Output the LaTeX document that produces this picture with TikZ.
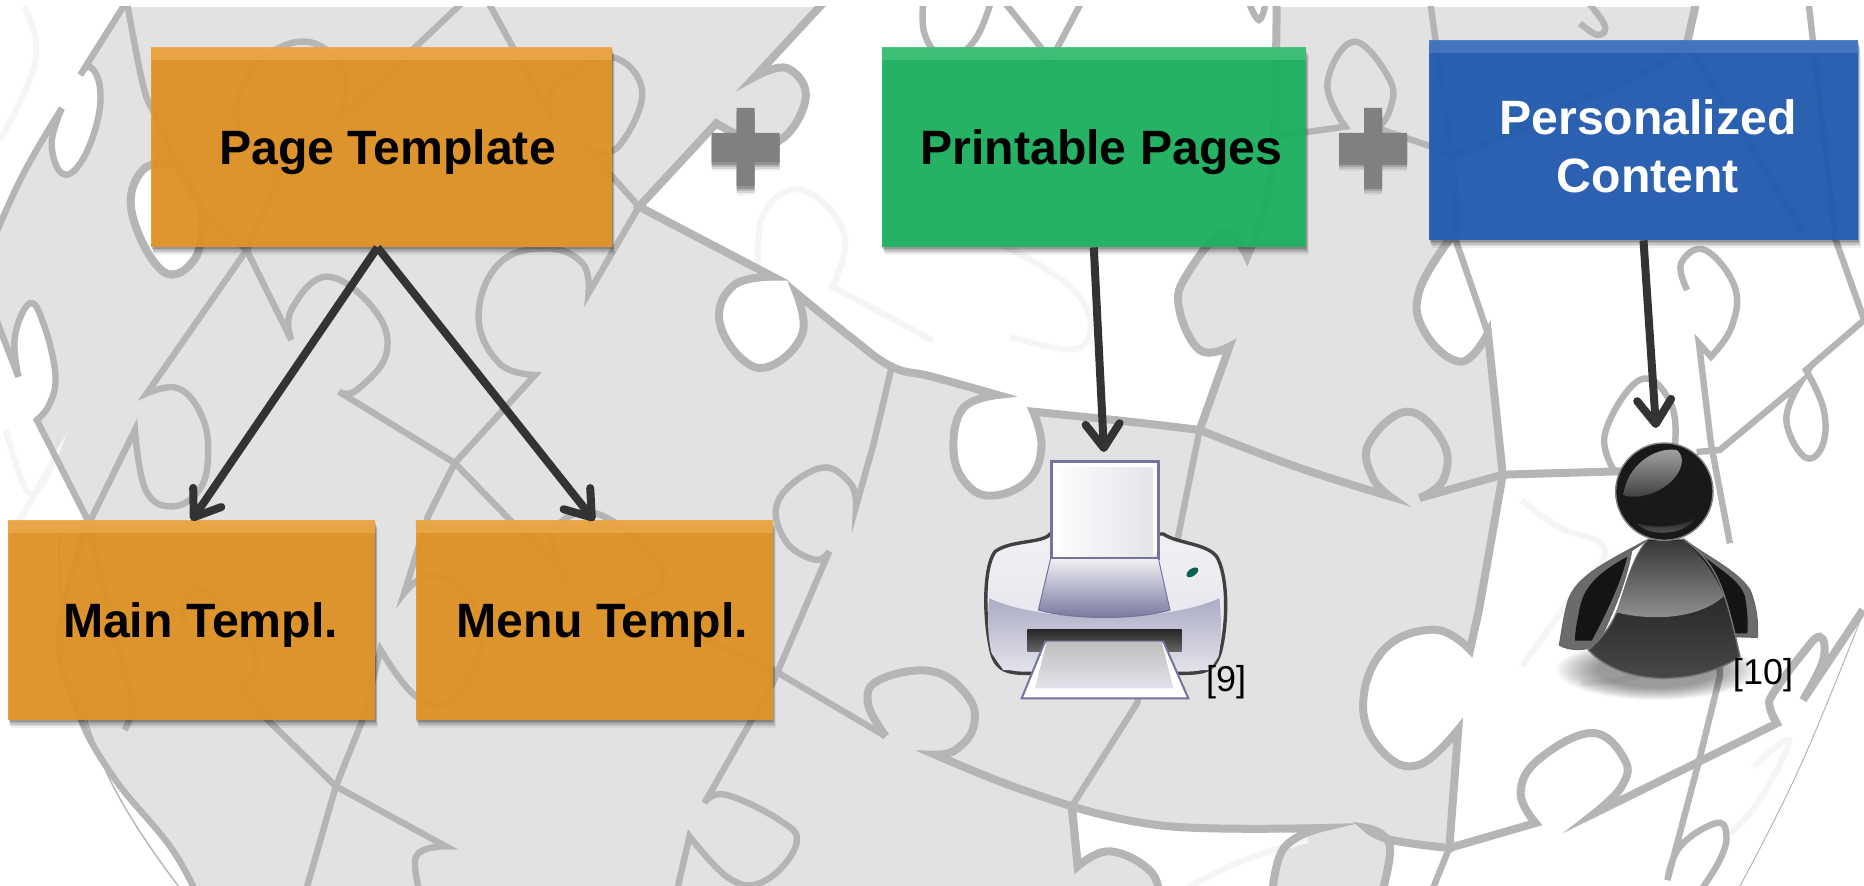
\documentclass[tikz,border=0pt]{standalone}
\usepackage{fontspec}
\setmainfont{Liberation Sans}
\usepackage{xcolor}
\usetikzlibrary{positioning}
\usetikzlibrary{arrows.meta,shadows}

\definecolor{globefill}{HTML}{E2E2E2}
\definecolor{globeline}{HTML}{B5B5B5}
\definecolor{globefaint}{HTML}{F5F5F5}
\definecolor{tplorange}{HTML}{E69625}
\definecolor{pagegreen}{HTML}{1CB561}
\definecolor{userblue}{HTML}{235DB4}
\definecolor{flowgray}{HTML}{333333}
\definecolor{plusgray}{HTML}{808080}
\definecolor{printlight}{HTML}{F0F0F4}
\definecolor{printmid}{HTML}{ABABC4}
\definecolor{printdark}{HTML}{74749C}
\definecolor{printpale}{HTML}{E2E2EA}

% the white puzzle pieces of the globe
\newcommand{\pieceTop}{(1405,-30) -- (1270,230) -- plot coordinates {(1270,230)(1325,205)(1355,300)(1300,430)(1205,370)} -- (1075,620) -- (1300,830)
  -- plot coordinates {(1300,830)(1235,855)(1210,960)(1250,1080)(1300,1095)(1350,1000)(1340,880)}
  -- plot coordinates {(1340,880)(1430,1010)(1500,1100)(1568,1130)(1678,1185)}
  -- plot coordinates {(1678,1185)(1620,1225)(1604,1350)(1625,1450)(1670,1487)(1730,1440)(1752,1340)(1738,1235)}
  -- plot coordinates {(1738,1235)(1900,1265)(2018,1290)} -- (2068,1040)
  -- plot coordinates {(2068,1040)(2018,1050)(1983,920)(1998,820)(2058,700)(2098,770)}
  -- plot coordinates {(2098,770)(2130,600)(2143,400)(2148,-30)} -- cycle}
\newcommand{\pieceLeft}{(-30,800) -- plot coordinates {(-30,800)(34,540)(104,325)}
  -- plot coordinates {(104,325)(87,430)(104,520)(135,490)(163,370)(168,260)(151,200)(135,225)} -- (225,-30) -- (-30,-30) -- cycle}
\newcommand{\pieceLobe}{(297,490) -- plot coordinates {(297,490)(240,510)(222,640)(275,815)(330,770)(340,630)} -- cycle}
\newcommand{\pieceCorner}{(-30,850) -- (31,1130) -- plot coordinates {(31,1130)(25,1010)(50,910)(73,970)(93,1120)(84,1210)(62,1260)}
  -- (149,1565) -- plot coordinates {(149,1565)(100,1900)(130,2130)(190,2329)(290,2549)(340,2720)} -- (-30,2720) -- cycle}
\newcommand{\pieceBottom}{(1803,2419) -- plot coordinates {(1803,2419)(1968,2479)(2223,2484)} -- plot coordinates {(2223,2484)(2158,2549)(2138,2720)}
  -- (1950,2720) -- plot coordinates {(1950,2720)(1938,2619)(1868,2554)(1813,2599)} -- cycle}
\newcommand{\pieceRight}{(2858,-30) -- (2838,130) -- (2798,190) -- (2538,400) -- (2443,470) -- (2450,690)
  -- plot coordinates {(2450,690)(2388,870)(2398,1000)(2458,1085)(2503,1000)} -- (2528,1424) -- (2488,1829) -- (2473,1949)
  -- plot coordinates {(2473,1949)(2413,1889)(2328,1949)(2293,2119)(2328,2259)(2388,2294)(2453,2189)} -- (2438,2544)
  -- plot coordinates {(2438,2544)(2338,2519)(2298,2484)} -- plot coordinates {(2298,2484)(2338,2539)(2318,2720)} -- (3200,2720) -- (3200,-30) -- cycle}

\begin{document}
\begin{tikzpicture}[
    x=.5pt, y=-.5pt,
    every plot/.style = {smooth, tension=.7},
    node distance = 0mm and 20pt,% for distance between nodes
    bgline/.style = {draw=globeline, line width=4pt},
    bgthin/.style = {draw=globeline, line width=3.2pt},
    bgfaint/.style = {draw=globefaint, line width=3pt},
    box/.style = {rectangle, fill=#1, fill opacity=.92, text opacity=1, inner sep=0pt, align=center,
        font=\fontsize{24.1}{29}\selectfont\bfseries,
        drop shadow={shadow xshift=.3pt, shadow yshift=-.8pt, opacity=.12, fill=black},
        drop shadow={shadow xshift=.6pt, shadow yshift=-1.6pt, opacity=.12, fill=black},
        drop shadow={shadow xshift=.9pt, shadow yshift=-2.4pt, opacity=.1, fill=black},
        drop shadow={shadow xshift=1.2pt, shadow yshift=-3.2pt, opacity=.08, fill=black},
        drop shadow={shadow xshift=1.5pt, shadow yshift=-4.2pt, opacity=.06, fill=black},
        path picture={\shade[top color=#1!84!white, bottom color=#1]
            (path picture bounding box.north west) rectangle ([yshift=-6pt]path picture bounding box.north east);}},
    flow/.style = {draw=flowgray, line width=4pt, -{Straight Barb[length=12pt, width=17pt, round]}},
    cite/.style = {inner sep=0pt, font=\fontsize{18}{18}\selectfont}
    ]
    \useasboundingbox (0,0) rectangle (1864,886);
    \fill[white] (0,0) rectangle (1864,886);

    % globe
    \begin{scope}
    \clip (0,7) rectangle (1864,886);
    \fill[globefill] (0,7) rectangle (1864,886);
    \begin{scope}[x=.29723pt, y=-.16667pt]
    \fill[white] \pieceTop;
    \fill[white] \pieceLeft;
    \fill[white] \pieceLobe;
    \fill[white] \pieceCorner;
    \fill[white] \pieceBottom;
    \fill[white] \pieceRight;
    % back side of the globe
    \draw[bgfaint] plot coordinates {(1275,820)(1285,640)(1350,570)(1420,700)(1400,860)} -- (1568,1020);
    \draw[bgfaint] plot coordinates {(40,20)(60,180)(0,420)};
    \draw[bgfaint] plot coordinates {(1580,640)(1800,860)(1820,1040)(1700,1010)};
    \draw[bgfaint] plot coordinates {(2560,1500)(2620,1580)(2700,1650)(2640,1800)(2560,2000)};
    \draw[bgfaint] plot coordinates {(2760,1650)(2850,1800)(2790,2000)(2660,2050)};
    \draw[bgfaint] plot coordinates {(2950,2300)(3010,2220)(2960,2400)(2910,2500)};
    \draw[bgfaint] plot coordinates {(1960,2700)(2080,2590)(2200,2520)};
    \draw[bgfaint] plot coordinates {(10,1290)(50,1480)(90,1380)(20,1600)};
    \draw[globeline, line width=.5pt] plot coordinates {(3134,1840)(3028,2300)(2927,2658)};
    \draw[globeline, line width=.7pt] plot coordinates {(100,1570)(110,1900)(180,2320)(300,2658)};
    % outlines of the pieces
    \draw[bgline] \pieceTop;
    \draw[bgthin] \pieceLeft;
    \draw[bgline] \pieceLobe;
    \draw[bgthin] \pieceCorner;
    \draw[bgline] \pieceBottom;
    \draw[bgline] \pieceRight;
    \draw[bgthin] (210,-30) -- plot coordinates {(210,-30)(240,250)(262,350)(297,490)};
    \draw[bgthin] (340,630) -- (415,750) -- (247,1180) -- plot coordinates {(247,1180)(300,1165)(340,1250)(350,1370)(335,1470)(290,1519)(245,1470)(227,1290)} -- (150,1569) -- (165,1700) -- (225,2130) -- (210,2190);
    \draw[bgthin] (415,750) -- (490,1020) -- plot coordinates {(490,1020)(490,930)(550,830)(630,930)(650,1060)(600,1170)(570,1175)} -- (765,1389) -- (950,1729) -- plot coordinates {(950,1729)(930,1599)(1000,1539)(1100,1669)(1110,1759)(1050,1809)} -- (1300,2009) -- (1490,2209);
    \draw[bgline] plot coordinates {(1490,2209)(1460,2109)(1480,2039)(1568,2014)(1628,2089)(1638,2179)(1608,2249)(1573,2264)} -- plot coordinates {(1573,2264)(1690,2350)(1803,2419)} -- (1813,2599);
    \draw[bgthin] (415,750) -- (470,530) -- plot coordinates {(470,530)(400,370)(430,200)(515,125)(580,220)(570,360)} -- (800,-30);
    \draw[bgthin] (810,-30) -- (930,360) -- plot coordinates {(930,360)(930,270)(1020,170)(1080,270)(1040,440)(990,450)} -- (1075,620);
    \draw[bgthin] (1075,620) -- (990,880) -- plot coordinates {(990,880)(980,790)(920,745)(840,790)(805,950)(840,1090)(900,1125)} -- (765,1389) -- (720,1549) -- (680,1779) -- plot coordinates {(680,1779)(720,1729)(780,1769)(810,1929)(760,2099)(700,2089)(640,1949)} -- (610,2159) -- (565,2359) -- (510,2700);
    \draw[bgthin] plot coordinates {(310,1880)(310,1800)(340,1769)(400,1859)(430,1969)(420,2039)(400,2059)} -- (450,2159) -- (565,2359) -- (750,2539) -- plot coordinates {(750,2539)(700,2569)(710,2700)};
    \draw[bgthin] (1500,1100) -- (1470,1329) -- (1440,1519) -- plot coordinates {(1440,1519)(1430,1449)(1380,1404)(1310,1499)(1320,1619)(1370,1679)(1395,1654)} -- (1300,2049) -- (1185,2409) -- plot coordinates {(1185,2409)(1220,2384)(1310,2459)(1340,2529)(1290,2639)(1230,2639)(1160,2509)} -- (1135,2700);
    \draw[bgline] (2018,1290) -- plot coordinates {(2018,1290)(2180,1400)(2338,1489)} -- plot coordinates {(2338,1489)(2308,1429)(2303,1329)(2368,1235)(2428,1329)(2428,1439)(2388,1494)} -- (2528,1424) -- (2800,1410);
    \draw[bgthin] (2018,1290) -- (1983,1599) -- (1950,1900) -- (1913,2109) -- (1803,2419);
    \draw[bgthin] (2143,410) -- (2263,380) -- plot coordinates {(2263,380)(2233,250)(2278,125)(2338,240)(2338,330)(2318,385)} -- (2408,440) -- (2443,470) -- (2403,-30);
    \draw[bgthin] (2443,690) -- (2503,1000);
    \draw[bgthin] (2438,2544) -- (2398,2720);
    \draw[bgline] (2438,2544) -- (2583,2469) -- plot coordinates {(2583,2469)(2558,2379)(2588,2279)(2678,2199)(2733,2279)(2728,2359)(2683,2439)} -- (2989,2170) -- plot coordinates {(2989,2170)(2977,2120)(2983,2080)(3028,1970)(3061,1910)(3067,1980)(3033,2100)} -- (3134,1830);
    \draw[bgthin] (2893,1700) -- (2893,2030) -- (2857,2290) -- (2805,2640) -- plot coordinates {(2805,2640)(2826,2540)(2885,2470)(2904,2500)(2893,2580)(2850,2700)};
    \draw[bgthin] plot coordinates {(2838,870)(2828,790)(2868,750)(2918,860)(2913,980)(2878,1070)} -- (2858,1030) -- (2878,1329) -- (2910,1630);
    \draw[bgthin] (2854,1356) -- (2893,1350) -- (3028,1150) -- plot coordinates {(3028,1150)(3005,1260)(3035,1370)(3065,1340)(3068,1230)(3038,1110)} -- (3136,960);
    \draw[bgthin] plot coordinates {(2718,1419)(2700,1300)(2758,1140)(2808,1200)(2818,1329)(2800,1420)};
    \draw[bgthin] plot coordinates {(2653,-30)(2698,70)(2688,105)(2658,70)};
    \draw[bgthin] plot coordinates {(2093,-30)(2118,60)(2133,-30)};
    \draw[bgthin] plot coordinates {(1555,-30)(1555,100)(1590,170)(1640,120)(1673,-30)} -- (1768,180) -- (1830,-30);
    \draw[bgthin] (3040,-30) -- (3088,720) -- (3136,960);
    \draw[bgthin] (2838,130) -- (3035,700);
    \end{scope}
    \end{scope}

    % template boxes
    \node (pagetpl) [box=tplorange, minimum width=230.5pt, minimum height=99.5pt, text height=17.2pt, text depth=0pt] at (381.5,147.5) {\hspace*{6pt}Page Template};
    \node (maintpl) [box=tplorange, minimum width=183.5pt, minimum height=99.5pt, text height=17.2pt, text depth=0pt] at (191.5,620.5) {\hspace*{9pt}Main Templ.};
    \node (menutpl) [box=tplorange, minimum width=178.5pt, minimum height=99.5pt, text height=17.2pt, text depth=0pt, right=of maintpl] {\hspace*{8pt}Menu Templ.};
    \node (printpages) [box=pagegreen, minimum width=212pt, minimum height=99.5pt, text height=17.2pt, text depth=0pt, right=134.5pt of pagetpl] {\hspace*{7.5pt}Printable Pages};
    \node (personal) [box=userblue, minimum width=214.5pt, minimum height=99.5pt, text height=52.5pt, text depth=0pt, text=white] at (1643.5,140.5) {\hspace*{4.5pt}Personalized\\\hspace*{4.5pt}Content};

    % plus signs
    \foreach \px in {745.5,1373} {
      \foreach \d/\o in {9/.06,7/.1,5/.14,3/.2}
        \fill[black, opacity=\o] (\px-9,108+\d) -- (\px+9,108+\d) -- (\px+9,133+\d) -- (\px+34,133+\d) -- (\px+34,162+\d) -- (\px+9,162+\d) -- (\px+9,186+\d) -- (\px-9,186+\d) -- (\px-9,162+\d) -- (\px-34,162+\d) -- (\px-34,133+\d) -- (\px-9,133+\d) -- cycle;
      \fill[plusgray] (\px-9,108) -- (\px+9,108) -- (\px+9,133) -- (\px+34,133) -- (\px+34,162) -- (\px+9,162) -- (\px+9,186) -- (\px-9,186) -- (\px-9,162) -- (\px-34,162) -- (\px-34,133) -- (\px-9,133) -- cycle;
    }

    % printer
    \begin{scope}[shift={(950,380)}, x=.16667pt, y=-.16667pt]
    \draw[draw=black!75, line width=1.7pt, top color=printlight, bottom color=printpale]
      (300,462) .. controls (280,490) and (180,480) .. (135,515) .. controls (100,560) and (100,720) .. (125,820) .. controls (140,875) and (180,880) .. (230,880)
      -- (700,880) .. controls (770,880) and (800,870) .. (815,800) .. controls (835,700) and (830,580) .. (800,530) .. controls (770,490) and (680,490) .. (640,462) -- cycle;
    \shade[top color=printmid, bottom color=printpale]
      (118,655) .. controls (280,730) and (640,730) .. (808,655) .. controls (815,720) and (815,790) .. (805,830) -- (780,870) -- (160,870) -- (125,820) .. controls (112,770) and (112,700) .. (118,655) -- cycle;
    \draw[draw=printdark, line width=1.2pt, shading angle=45, shade, left color=white, right color=printpale] (305,245) rectangle (625,535);
    \draw[white, line width=1.6pt] (315,255) -- (615,255) -- (615,525) (315,255) -- (315,525);
    \draw[draw=printdark, line width=.5pt, top color=printlight, bottom color=printdark]
      (302,535) -- (625,535) -- (660,690) .. controls (560,720) and (370,720) .. (265,690) -- cycle;
    \shade[top color=black!85, bottom color=black!60] (232,748) rectangle (695,815);
    \draw[draw=printdark, line width=1pt, fill=white] (285,785) -- (640,785) -- (715,955) -- (215,955) -- cycle;
    \shade[top color=black!25, bottom color=printpale] (290,785) -- (635,785) -- (670,925) -- (255,925) -- cycle;
    \fill[green!55!blue!70!black, rotate around={35:(727,577)}] (727,577) ellipse [x radius=20, y radius=11];
    \end{scope}

    % user
    \begin{scope}[shift={(1520,380)}, x=.16667pt, y=-.16667pt]
    \foreach \r in {300,290,...,180}
      \fill[black, opacity=.035] (410,870) ellipse [x radius=\r, y radius=.3*\r];
    \draw[draw=black!60, line width=.6pt, fill=black!58]
      (385,478) .. controls (250,550) and (170,590) .. (145,660) .. controls (130,710) and (125,760) .. (118,795) .. controls (150,815) and (200,810) .. (230,798) .. controls (280,700) and (320,600) .. (335,512) -- cycle;
    \fill[black!92] (322,530) .. controls (250,570) and (195,610) .. (180,680) .. controls (172,720) and (165,750) .. (165,782) -- (215,782) .. controls (265,690) and (305,600) .. (322,530) -- cycle;
    \draw[draw=black!60, line width=.6pt, fill=black!58]
      (495,480) .. controls (560,530) and (650,570) .. (690,630) .. controls (710,680) and (715,730) .. (712,772) -- (640,770) -- cycle;
    \fill[black!92] (540,520) .. controls (600,570) and (660,600) .. (675,650) .. controls (682,690) and (685,730) .. (682,760) -- (640,760) -- cycle;
    \draw[draw=black!55, line width=.7pt, top color=black!92, bottom color=black!72]
      (385,478) .. controls (345,520) and (325,590) .. (300,670) .. controls (280,730) and (250,770) .. (205,810) .. controls (260,870) and (350,895) .. (430,895) .. controls (520,895) and (600,870) .. (660,830) .. controls (640,740) and (620,650) .. (590,590) .. controls (560,530) and (520,500) .. (490,478) -- cycle;
    \shade[top color=black!78, bottom color=black!42]
      (385,482) .. controls (345,520) and (325,590) .. (288,697) .. controls (400,725) and (540,715) .. (612,648) .. controls (580,570) and (530,510) .. (490,482) -- cycle;
    \draw[draw=black!50, line width=.7pt, fill=black!90] (433,335) circle [radius=146];
    \shade[top color=black!35, bottom color=black!75]
      (310,345) .. controls (320,260) and (400,200) .. (470,210) .. controls (510,240) and (470,320) .. (380,345) .. controls (350,352) and (325,352) .. (310,345) -- cycle;
    \shade[top color=black!90, bottom color=black!60]
      (350,430) .. controls (400,445) and (480,445) .. (530,410) .. controls (500,465) and (390,475) .. (350,430) -- cycle;
    \end{scope}

    \coordinate (printtop) at (1104,452);
    \coordinate (usertop) at (1656,428);
    \node (citeprint) [cite] at (1226,682) {[9]};
    \node (citeuser) [cite] at (1763,675) {[10]};

    \draw[flow] ([xshift=-2pt]pagetpl.south) -- (maintpl.north);
    \draw[flow] ([xshift=-2pt]pagetpl.south) -- (menutpl.north);
    \draw[flow] (printpages.south) -- (printtop);
    \draw[flow] (personal.south) -- (usertop);
\end{tikzpicture}
\end{document}
